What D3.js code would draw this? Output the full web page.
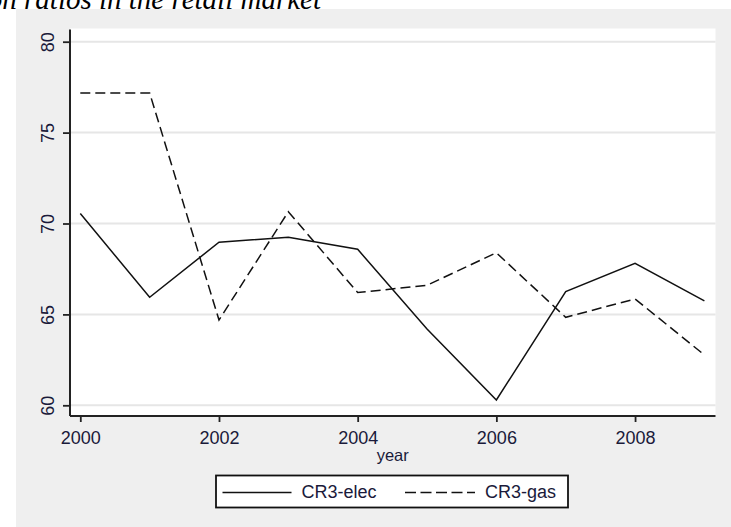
<!DOCTYPE html>
<html>
<head>
<meta charset="utf-8">
<script src="https://cdn.jsdelivr.net/npm/d3@7"></script>
<style>
  html, body { margin: 0; padding: 0; background: #ffffff; }
  svg { display: block; }
</style>
</head>
<body>
<svg id="chart" width="731" height="527"></svg>
<script>
// ---- data ----
const years = [2000, 2001, 2002, 2003, 2004, 2005, 2006, 2007, 2008, 2009];
const elec  = [70.55, 65.94, 68.97, 69.24, 68.58, 64.2, 60.29, 66.25, 67.81, 65.74];
const gas   = [77.18, 77.18, 64.69, 70.65, 66.2, 66.6, 68.39, 64.84, 65.85, 62.77];
const xTicks = [2000, 2002, 2004, 2006, 2008];
const yTicks = [60, 65, 70, 75, 80];
const seriesNames = ["CR3-elec", "CR3-gas"];
const titleText = "Figure 5: Concentration ratios in the retail market";
const xTitle = "year";

const svg = d3.select("#chart");
const font = "'Liberation Sans', Arial, sans-serif";

// title (cropped at top of the image, as in the reference)
svg.append("text")
  .attr("x", 321).attr("y", 9)
  .attr("text-anchor", "end")
  .attr("font-family", "'Liberation Serif', 'Times New Roman', serif")
  .attr("font-style", "italic")
  .attr("font-size", 29)
  .attr("fill", "#000")
  .text(titleText);

// gray graph region
svg.append("rect")
  .attr("x", 16).attr("y", 9).attr("width", 731 - 16).attr("height", 527 - 9)
  .attr("fill", "#efefef");

const plot = { left: 70, right: 715.5, top: 28.5, bottom: 416 };

// white plot region
svg.append("rect")
  .attr("x", plot.left).attr("y", plot.top)
  .attr("width", plot.right - plot.left).attr("height", plot.bottom - plot.top)
  .attr("fill", "#ffffff");

const x = d3.scaleLinear().domain([2000, 2009]).range([80.3, 704.4]);
const y = d3.scaleLinear().domain([60, 80]).range([405.3, 41.7]);

// gridlines
svg.append("g").selectAll("line").data(yTicks).join("line")
  .attr("x1", plot.left).attr("x2", plot.right)
  .attr("y1", d => y(d)).attr("y2", d => y(d))
  .attr("stroke", "#e6e6e6").attr("stroke-width", 2);

// y axis
const yAxis = svg.append("g")
  .attr("transform", `translate(${plot.left},0)`)
  .call(d3.axisLeft(y).tickValues(yTicks).tickSize(7).tickPadding(0).tickSizeOuter(0));
yAxis.select(".domain").remove();
yAxis.append("line")
  .attr("x1", 0).attr("x2", 0).attr("y1", plot.top + 1).attr("y2", plot.bottom)
  .attr("stroke", "#222").attr("stroke-width", 2);
yAxis.selectAll(".tick line").attr("stroke", "#222").attr("stroke-width", 1.8);
yAxis.selectAll(".tick text")
  .attr("font-family", font).attr("font-size", 18).attr("fill", "#1a1a3a")
  .attr("text-anchor", "middle")
  .attr("x", 0).attr("dy", 0).attr("y", 0)
  .attr("transform", "translate(-16.5,0) rotate(-90)");

// x axis
const xAxis = svg.append("g")
  .attr("transform", `translate(0,${plot.bottom})`)
  .call(d3.axisBottom(x).tickValues(xTicks).tickFormat(d3.format("d")).tickSize(6).tickPadding(0).tickSizeOuter(0));
xAxis.select(".domain").remove();
xAxis.append("line")
  .attr("x1", plot.left).attr("x2", plot.right).attr("y1", 0).attr("y2", 0)
  .attr("stroke", "#222").attr("stroke-width", 2);
xAxis.selectAll(".tick line").attr("stroke", "#222").attr("stroke-width", 1.8);
xAxis.selectAll(".tick text")
  .attr("font-family", font).attr("font-size", 18).attr("fill", "#1a1a3a")
  .attr("dy", 0).attr("y", 28);

// x title
svg.append("text")
  .attr("x", (plot.left + plot.right) / 2).attr("y", 461)
  .attr("text-anchor", "middle")
  .attr("font-family", font).attr("font-size", 16.5).attr("fill", "#1a1a3a")
  .text(xTitle);

// lines
const line = d3.line().x((d, i) => x(years[i])).y(d => y(d));
svg.append("path").datum(elec).attr("d", line)
  .attr("fill", "none").attr("stroke", "#111").attr("stroke-width", 1.5)
  .attr("stroke-linejoin", "miter");
svg.append("path").datum(gas).attr("d", line)
  .attr("fill", "none").attr("stroke", "#111").attr("stroke-width", 1.5)
  .attr("stroke-dasharray", "10,5");

// legend
const lg = svg.append("g");
lg.append("rect")
  .attr("x", 216).attr("y", 475.5).attr("width", 352).attr("height", 32)
  .attr("fill", "#ffffff").attr("stroke", "#111").attr("stroke-width", 1.8);
lg.append("line")
  .attr("x1", 222.5).attr("x2", 291.5).attr("y1", 492.5).attr("y2", 492.5)
  .attr("stroke", "#111").attr("stroke-width", 1.6);
lg.append("text")
  .attr("x", 301.5).attr("y", 497.5)
  .attr("font-family", font).attr("font-size", 18).attr("fill", "#1a1a3a")
  .text(seriesNames[0]);
lg.append("line")
  .attr("x1", 405).attr("x2", 475).attr("y1", 492.5).attr("y2", 492.5)
  .attr("stroke", "#111").attr("stroke-width", 1.6)
  .attr("stroke-dasharray", "11,4.5");
lg.append("text")
  .attr("x", 485).attr("y", 497.5)
  .attr("font-family", font).attr("font-size", 18).attr("fill", "#1a1a3a")
  .text(seriesNames[1]);
</script>
</body>
</html>
